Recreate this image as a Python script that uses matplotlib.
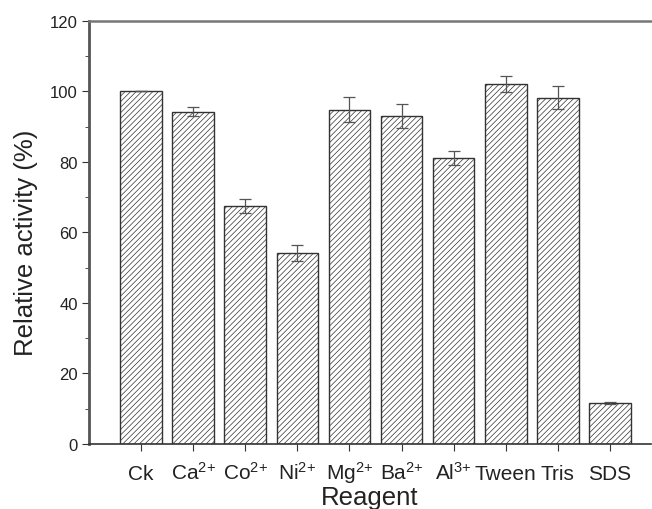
import matplotlib
matplotlib.use("Agg")
import matplotlib.pyplot as plt
from matplotlib.ticker import MultipleLocator

plt.rcParams["font.family"] = ["Liberation Sans", "DejaVu Sans"]
plt.rcParams["mathtext.fontset"] = "custom"
plt.rcParams["mathtext.rm"] = "Liberation Sans"
plt.rcParams["mathtext.it"] = "Liberation Sans"
plt.rcParams["mathtext.default"] = "regular"
plt.rcParams["hatch.linewidth"] = 0.5
plt.rcParams["hatch.color"] = "#666666"

reagents = ["Ck", "Ca$^{2{+}}$", "Co$^{2{+}}$", "Ni$^{2{+}}$", "Mg$^{2{+}}$", "Ba$^{2{+}}$",
            "Al$^{3{+}}$", "Tween", "Tris", "SDS"]
activity = [100.0, 94.2, 67.5, 54.2, 94.8, 93.0, 81.1, 102.1, 98.2, 11.6]
errors = [0.0, 1.2, 2.0, 2.3, 3.5, 3.4, 2.0, 2.3, 3.3, 0.3]


def main():
    fig = plt.figure(figsize=(6.52, 5.10), dpi=100)
    ax = fig.add_axes([0.1365, 0.1275, 0.862, 0.83])

    x = list(range(1, len(reagents) + 1))
    ax.bar(x, activity, width=0.8, facecolor="white", edgecolor="#333333",
           linewidth=1.0, hatch="//////", zorder=2)
    ax.errorbar(x, activity, yerr=errors, fmt="none", ecolor="#555555",
                elinewidth=0.9, capsize=4, capthick=0.9, zorder=3)

    ax.set_xlim(0, 10.79)
    ax.set_ylim(0, 120)
    ax.set_xticks(x)
    ax.set_xticklabels(reagents, va="baseline")
    ax.yaxis.set_major_locator(MultipleLocator(20))
    ax.yaxis.set_minor_locator(MultipleLocator(10))
    ax.tick_params(axis="y", which="major", direction="out", length=5, labelsize=12, colors="#333333", pad=3)
    ax.tick_params(axis="y", which="minor", direction="out", length=3, colors="#333333")
    ax.tick_params(axis="x", direction="out", length=5, labelsize=15, colors="#333333", pad=20)
    for lab in ax.get_xticklabels() + ax.get_yticklabels():
        lab.set_color("#222222")

    ax.spines["left"].set_color("#555555")
    ax.spines["left"].set_linewidth(2.0)
    ax.spines["bottom"].set_color("#333333")
    ax.spines["bottom"].set_linewidth(1.2)
    ax.spines["top"].set_color("#777777")
    ax.spines["top"].set_linewidth(1.8)
    ax.spines["right"].set_visible(False)

    ax.set_xlabel("Reagent", fontsize=18.5, labelpad=0, color="#222222")
    ax.set_ylabel("Relative activity (%)", fontsize=18.5, labelpad=9, color="#222222")
    ax.yaxis.label.set_y(0.477)

    fig.savefig("out.png", dpi=100)


if __name__ == "__main__":
    main()
